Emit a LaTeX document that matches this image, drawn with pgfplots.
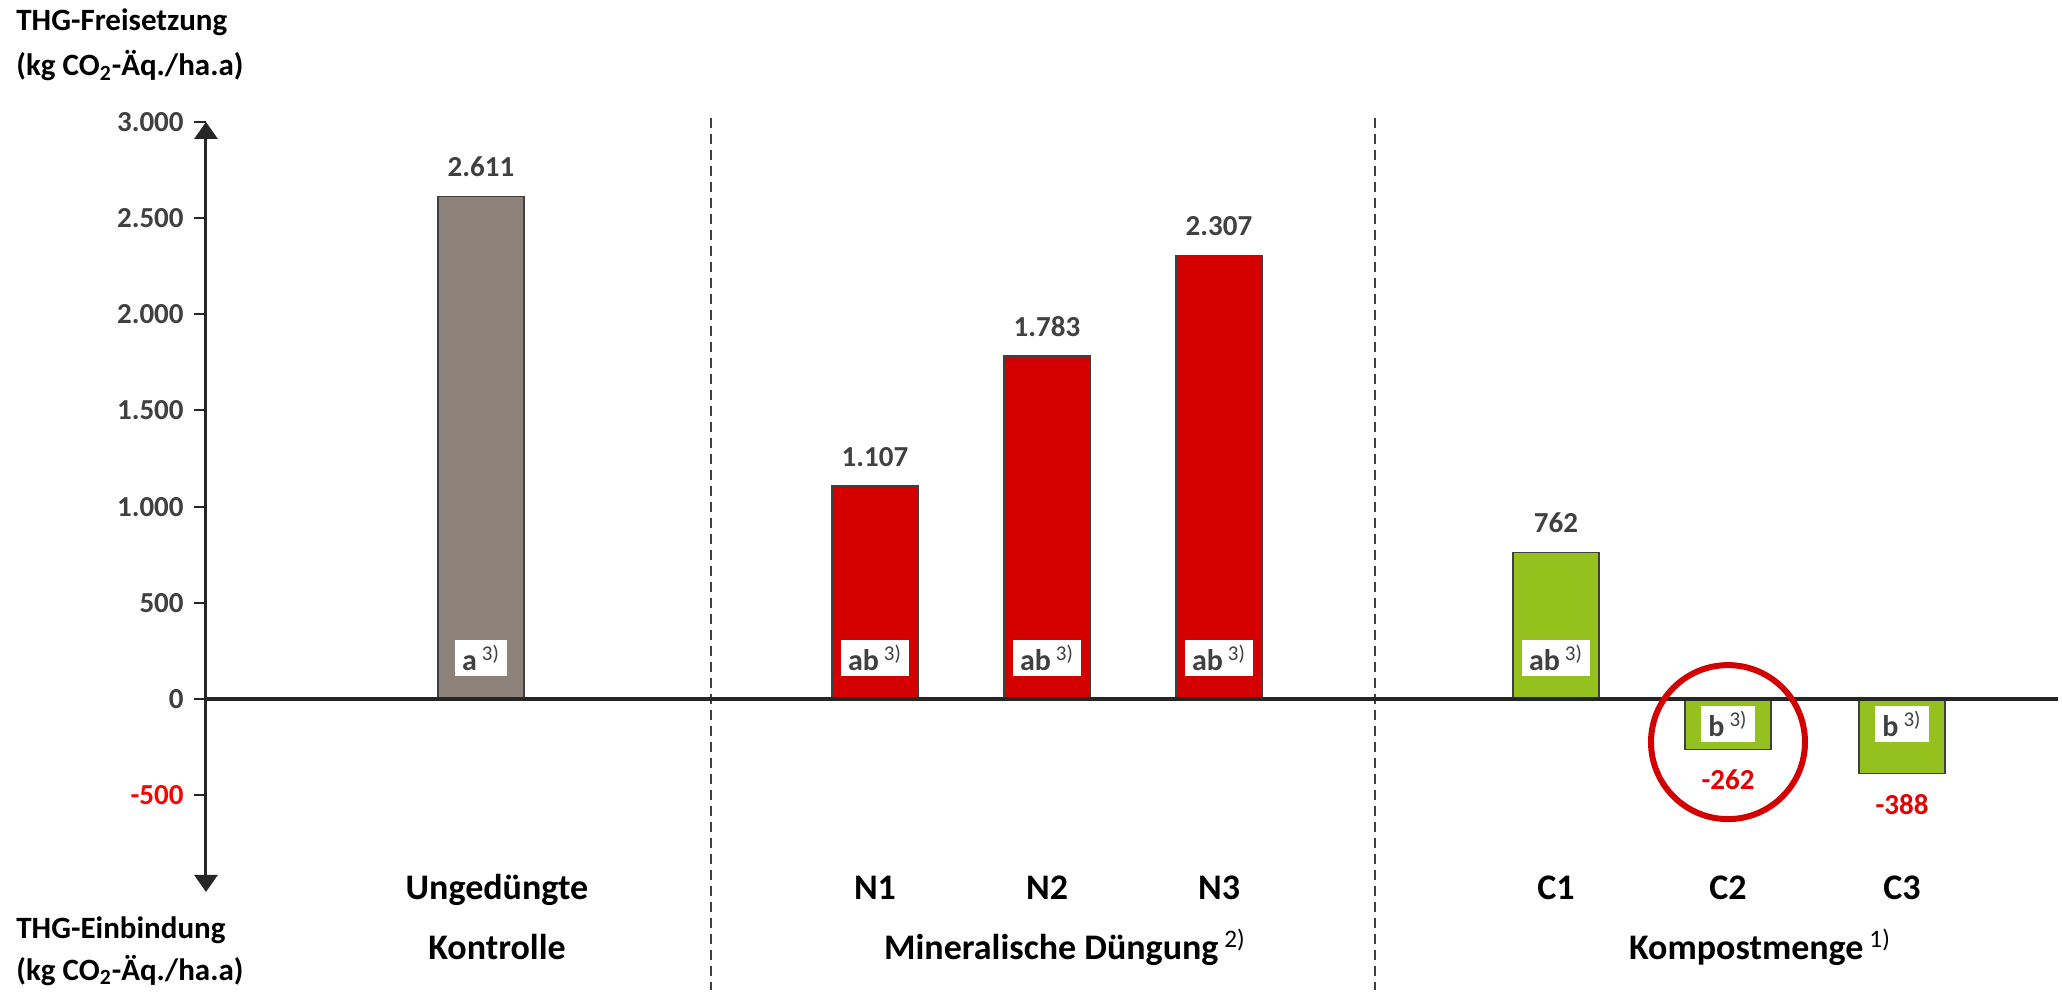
\documentclass[border=0pt]{standalone}
\usepackage{pgfplots}
\pgfplotsset{compat=1.18}
\usepackage{fontspec}
\setmainfont{Carlito}
\usetikzlibrary{arrows.meta}
\definecolor{barGray}{RGB}{141,130,121}
\definecolor{barRed}{RGB}{212,0,0}
\definecolor{barGreen}{RGB}{149,193,31}
\definecolor{txtGray}{RGB}{64,64,64}
\definecolor{axGray}{RGB}{38,38,38}
\definecolor{negRed}{RGB}{226,0,0}
\definecolor{tickRed}{RGB}{255,0,0}
\definecolor{circRed}{RGB}{210,0,0}
\tikzset{sig/.style={fill=white, inner xsep=3.5pt, inner ysep=0pt, minimum height=18pt, font=\fontsize{15}{17}\selectfont\bfseries, text=txtGray}}
\begin{document}
\begin{tikzpicture}
\begin{axis}[
  scale only axis, width=926pt, height=385pt,
  xmin=2.06, xmax=20.58, ymin=-1003, ymax=3000,
  clip=false,
  axis line style={draw=none},
  ytick={-500,0,500,1000,1500,2000,2500,3000},
  yticklabels={\textcolor{tickRed}{-500},0,500,1.000,1.500,2.000,2.500,3.000},
  ytick pos=left,
  tick align=inside, major tick length=6pt,
  ytick style={xshift=-6pt, line width=1pt, color=axGray},
  yticklabel style={anchor=east, inner sep=0pt, xshift=-11pt, font=\fontsize{14.5}{16}\selectfont\bfseries, text=txtGray},
  xtick={4.97,8.75,10.47,12.19,15.56,17.28,19.02},
  xticklabels={Ungedüngte,N1,N2,N3,C1,C2,C3},
  xtick style={draw=none},
  xticklabel style={anchor=base, inner sep=0pt, yshift=-4pt, font=\fontsize{18}{20}\selectfont\bfseries, text=black},
  extra x ticks={4.97,10.65,17.6},
  extra x tick labels={Kontrolle, Mineralische Düngung\,\textsuperscript{\mdseries 2)}, Kompostmenge\,\textsuperscript{\mdseries 1)}},
  extra x tick style={major tick length=0pt, xtick style={draw=none}, xticklabel style={yshift=-30pt}},
  /pgf/number format/.cd, 1000 sep={.}, fixed, precision=0, assume math mode=true,
  /pgfplots/.cd,
  posnode/.style={nodes near coords, nodes near coords style={font=\fontsize{14.5}{16}\selectfont\bfseries, text=txtGray, inner sep=0pt, anchor=south, yshift=9.5pt}},
  negnode/.style={nodes near coords, nodes near coords style={font=\fontsize{14.5}{16}\selectfont\bfseries, text=negRed, inner sep=0pt, anchor=north, yshift=-10pt}},
]
% dashed separators
\draw[txtGray, line width=0.8pt, dash pattern=on 5pt off 3pt] (axis cs:7.11,3021) -- (axis cs:7.11,-1513);
\draw[txtGray, line width=0.8pt, dash pattern=on 5pt off 3pt] (axis cs:13.75,3021) -- (axis cs:13.75,-1513);

\addplot[ybar, bar width=0.86, bar shift=0pt, fill=barGray, draw=txtGray, line width=0.6pt, posnode] coordinates {(4.81,2611)};
\addplot[ybar, bar width=0.86, bar shift=0pt, fill=barRed, draw=txtGray, line width=0.6pt, posnode] coordinates {(8.75,1107) (10.47,1783) (12.19,2307)};
\addplot[ybar, bar width=0.86, bar shift=0pt, fill=barGreen, draw=txtGray, line width=0.6pt, posnode] coordinates {(15.56,762)};
\addplot[ybar, bar width=0.86, bar shift=0pt, fill=barGreen, draw=txtGray, line width=0.6pt, negnode] coordinates {(17.28,-262) (19.02,-388)};

% axes
\draw[axGray, line width=1.6pt] (axis cs:2.06,0) -- (axis cs:20.58,0);
\draw[axGray, line width=1.5pt, {Triangle[width=11.5pt,length=8.5pt]}-{Triangle[width=11.5pt,length=8.5pt]}] (axis cs:2.06,-1003) -- (axis cs:2.06,3000);

% significance letters
\node[sig] at (axis cs:4.81,213) {a\,\textsuperscript{\mdseries 3)}};
\node[sig] at (axis cs:8.75,213) {ab\,\textsuperscript{\mdseries 3)}};
\node[sig] at (axis cs:10.47,213) {ab\,\textsuperscript{\mdseries 3)}};
\node[sig] at (axis cs:12.19,213) {ab\,\textsuperscript{\mdseries 3)}};
\node[sig] at (axis cs:15.56,213) {ab\,\textsuperscript{\mdseries 3)}};
\node[sig] at (axis cs:17.28,-130) {b\,\textsuperscript{\mdseries 3)}};
\node[sig] at (axis cs:19.02,-130) {b\,\textsuperscript{\mdseries 3)}};

% highlight circle
\draw[circRed, line width=3pt] (axis cs:17.28,-224) circle[radius=38.5pt];

% axis titles
\node[anchor=base west, inner sep=0pt, font=\fontsize{15.5}{18}\selectfont\bfseries] at (axis cs:0.16,3473) {THG-Freisetzung};
\node[anchor=base west, inner sep=0pt, font=\fontsize{15.5}{18}\selectfont\bfseries] at (axis cs:0.16,3239) {(kg CO\textsubscript{2}-Äq./ha.a)};
\node[anchor=base west, inner sep=0pt, font=\fontsize{15.5}{18}\selectfont\bfseries] at (axis cs:0.16,-1243) {THG-Einbindung};
\node[anchor=base west, inner sep=0pt, font=\fontsize{15.5}{18}\selectfont\bfseries] at (axis cs:0.16,-1461) {(kg CO\textsubscript{2}-Äq./ha.a)};

\coordinate (bbtl) at (axis cs:0,3634);
\coordinate (bbbr) at (axis cs:20.62,-1539);
\end{axis}
\pgfresetboundingbox
\path[use as bounding box] (bbtl) rectangle (bbbr);
\end{tikzpicture}
\end{document}
